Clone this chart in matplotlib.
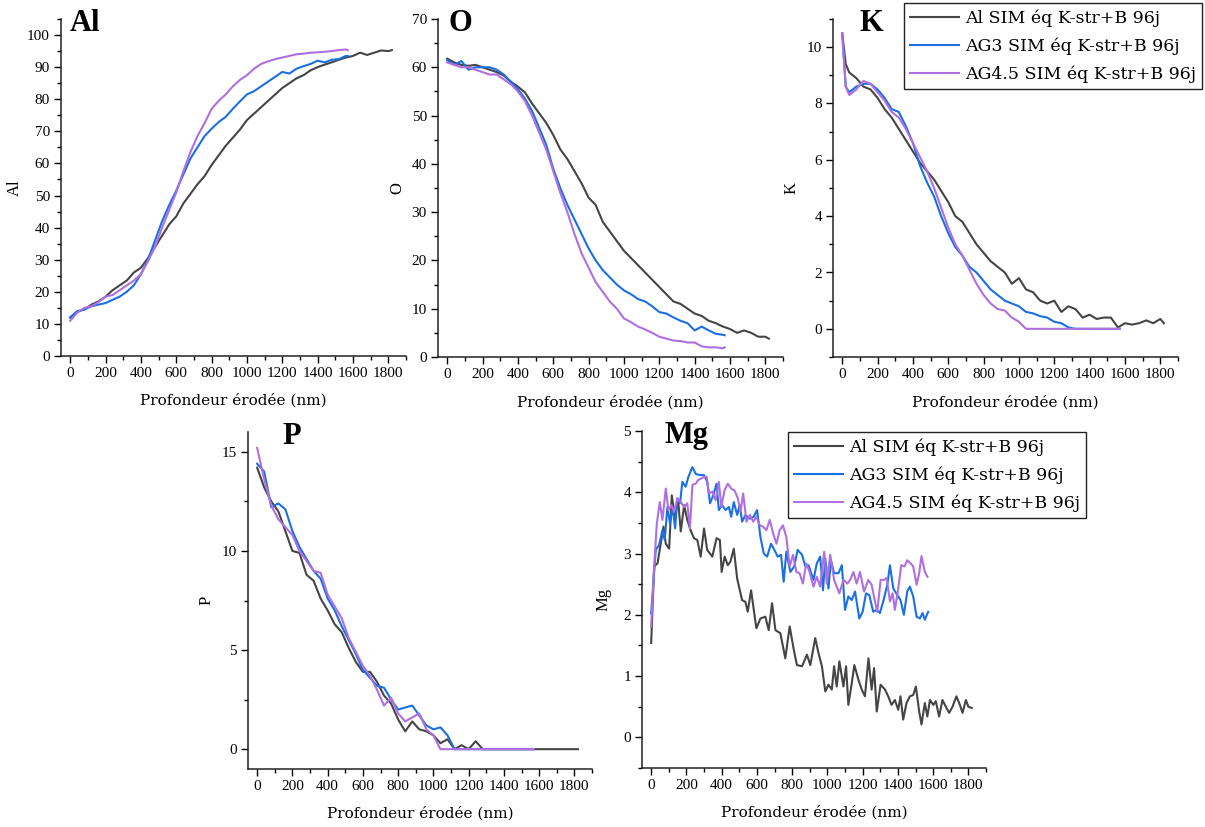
import numpy as np
import matplotlib
matplotlib.use("Agg")
import matplotlib.pyplot as plt
from matplotlib.ticker import MultipleLocator

plt.rcParams['font.family'] = ['Liberation Serif', 'DejaVu Serif']

# ---- data ---------------------------------------------------------------
series_names = ["Al SIM éq K-str+B 96j", "AG3 SIM éq K-str+B 96j", "AG4.5 SIM éq K-str+B 96j"]
colors = ["#454545", "#1a70e3", "#b06fe0"]

# depth grids (nm) for the smooth profiles
depth_al = list(range(0, 1801, 40)) + [1820]
depth_ag = list(range(0, 1561, 40)) + [1570]
# K has a sharp drop right at the surface
depth_k_al = [0, 20] + list(range(40, 1801, 40)) + [1820]
depth_k_ag = [0, 20] + list(range(40, 1561, 40)) + [1570]

al_al = [12, 13.8, 14.5, 16, 17, 18.5, 20.5, 22, 23.5, 26,
         27.5, 30.5, 34, 37.5, 41, 43.5, 47.5, 50.5, 53.5, 56,
         59.5, 62.5, 65.5, 68, 70.5, 73.5, 75.5, 77.5, 79.5, 81.5,
         83.5, 85, 86.5, 87.5, 89, 90, 90.8, 91.5, 92.3, 93,
         93.5, 94.5, 93.8, 94.5, 95.2, 95, 95.3]
al_ag3 = [12, 14, 14.5, 15.5, 16, 16.5, 17.5, 18.5, 20, 22,
          25.5, 30, 36, 42, 47, 51.5, 56.5, 61.5, 65, 68.5,
          70.8, 72.9, 74.5, 77, 79.3, 81.5, 82.5, 84, 85.5, 87,
          88.5, 88, 89.5, 90.3, 91, 92, 91.5, 92.3, 92.5, 93.5,
          93.5]
al_ag45 = [11, 13.5, 15, 15.5, 16.8, 18.5, 19, 20.5, 22, 23.5,
           25.5, 29.5, 34, 40, 45.5, 51, 57.5, 63.5, 68.5, 72.5,
           77, 79.5, 81.5, 84, 86, 87.5, 89.5, 91, 91.8, 92.5,
           93, 93.5, 94, 94.2, 94.5, 94.6, 94.8, 95, 95.3, 95.5,
           95.3]

o_al = [61.8, 61, 60.5, 60.3, 60.5, 60, 59.5, 59, 58.3, 57,
        56, 54.8, 52.5, 50.5, 48.5, 46, 43, 41, 38.5, 36,
        33, 31.5, 28, 26, 24, 22, 20.5, 19, 17.5, 16,
        14.5, 13, 11.5, 11, 10, 9, 8.5, 7.5, 7, 6.3,
        5.8, 5, 5.5, 5, 4.2, 4.2, 3.8]
o_ag3 = [61.5, 60.5, 61.3, 59.5, 60, 60, 60, 59.5, 58.5, 57,
         55.5, 53.5, 51, 47.5, 44, 39, 35, 31.5, 28.5, 25.5,
         22.5, 20, 18, 16.5, 15, 13.8, 13, 12, 11.5, 10.5,
         9.3, 9, 8.2, 7.5, 7, 5.5, 6.3, 5.5, 4.8, 4.6,
         4.5]
o_ag45 = [61, 60.5, 60, 60, 59.5, 59, 58.5, 58.5, 57.5, 56.5,
          55, 53, 50, 46.5, 43, 38.5, 34, 30, 25.5, 21.5,
          18.5, 15.5, 13.5, 11.5, 10, 8, 7.2, 6.3, 5.7, 5,
          4.2, 3.8, 3.4, 3.3, 3, 3, 2.2, 2, 2, 1.8,
          2]

k_al = [10.5, 9.4, 9.1, 8.9, 8.6, 8.5, 8.2, 7.8, 7.5, 7.1, 6.7,
        6.3, 5.9, 5.6, 5.3, 4.9, 4.5, 4.0, 3.8, 3.4, 3.0,
        2.7, 2.4, 2.2, 2.0, 1.6, 1.8, 1.4, 1.3, 1.0, 0.9,
        1.0, 0.6, 0.8, 0.7, 0.4, 0.5, 0.35, 0.4, 0.4, 0.05,
        0.2, 0.15, 0.2, 0.3, 0.2, 0.35, 0.2]
k_ag3 = [10.5, 8.6, 8.4, 8.6, 8.7, 8.7, 8.5, 8.2, 7.8, 7.7, 7.2,
         6.6, 5.8, 5.2, 4.7, 4.0, 3.4, 2.9, 2.6, 2.2, 2.0,
         1.7, 1.4, 1.2, 1.0, 0.9, 0.8, 0.6, 0.55, 0.45, 0.4,
         0.25, 0.2, 0.05, 0, 0, 0, 0, 0, 0, 0,
         0]
k_ag45 = [10.5, 8.6, 8.3, 8.5, 8.8, 8.7, 8.4, 8.1, 7.7, 7.5, 7.1,
          6.6, 6.1, 5.6, 5.0, 4.3, 3.6, 3.0, 2.6, 2.1, 1.6,
          1.2, 0.9, 0.7, 0.65, 0.4, 0.25, 0, 0, 0, 0,
          0, 0, 0, 0, 0, 0, 0, 0, 0, 0,
          0]

p_al = [14.2, 13.2, 12.5, 12.0, 11.0, 10.0, 9.9, 8.8, 8.5, 7.6,
        7.0, 6.3, 5.9, 5.1, 4.4, 3.9, 3.9, 3.4, 2.7, 2.3,
        1.5, 0.9, 1.4, 1.0, 0.9, 0.7, 0.3, 0.5, 0.0, 0.2,
        0.0, 0.4, 0, 0, 0, 0, 0, 0, 0, 0,
        0, 0, 0, 0, 0, 0, 0]
p_ag3 = [14.4, 14.0, 12.2, 12.4, 12.1, 11.0, 10.2, 9.6, 9.0, 8.6,
         7.6, 7.0, 6.2, 5.5, 4.8, 4.0, 3.6, 3.2, 3.1, 2.5,
         2.0, 2.1, 2.2, 1.7, 1.2, 1.0, 1.1, 0.7, 0.0, 0,
         0, 0, 0, 0, 0, 0, 0, 0, 0, 0,
         0]
p_ag45 = [15.2, 13.6, 12.3, 11.6, 11.2, 10.8, 10.0, 9.5, 9.0, 8.9,
          7.8, 7.2, 6.6, 5.6, 4.9, 4.2, 3.7, 3.0, 2.2, 2.6,
          1.8, 1.4, 1.6, 1.8, 1.0, 0.7, 0.0, 0, 0, 0,
          0, 0, 0, 0, 0, 0, 0, 0, 0, 0,
          0]

# Mg is noisy: read point by point
mg_al_depth = [0, 17, 36, 70, 83, 102, 117, 134, 153, 168, 187, 205, 224, 243, 262, 281,
               300, 318, 347, 371, 390, 400, 417, 435, 450, 469, 488, 516, 535, 548, 567, 597,
               620, 648, 667, 686, 705, 733, 761, 786, 808, 827, 856, 884, 903, 931, 950, 969,
               988, 1006, 1025, 1038, 1053, 1068, 1091, 1106, 1119, 1138, 1153, 1176, 1195, 1213,
               1233, 1251, 1265, 1280, 1302, 1327, 1345, 1364, 1383, 1402, 1415, 1430, 1449, 1468,
               1487, 1502, 1521, 1534, 1553, 1567, 1582, 1601, 1615, 1634, 1653, 1672, 1691, 1710,
               1732, 1748, 1767, 1786, 1800, 1819]
mg_al = [1.54, 2.79, 2.84, 3.44, 3.16, 3.08, 3.95, 3.6, 3.87, 3.36, 3.79, 3.55, 3.38, 3.25, 3.22, 2.95,
         3.41, 3.06, 2.95, 3.25, 3.22, 2.7, 2.95, 2.81, 2.87, 3.08, 2.59, 2.24, 2.21, 2.05, 2.4, 1.78,
         1.94, 1.97, 1.75, 2.19, 1.75, 1.7, 1.29, 1.81, 1.45, 1.18, 1.16, 1.35, 1.18, 1.62, 1.37, 1.16,
         0.75, 0.86, 0.78, 1.16, 0.83, 1.24, 0.83, 1.16, 0.53, 0.88, 1.18, 0.94, 0.78, 0.67,
         1.29, 0.78, 1.13, 0.42, 0.86, 0.78, 0.67, 0.53, 0.61, 0.45, 0.67, 0.29, 0.56, 0.67,
         0.69, 0.83, 0.42, 0.21, 0.56, 0.34, 0.61, 0.53, 0.59, 0.34, 0.61, 0.5, 0.4, 0.5,
         0.67, 0.56, 0.4, 0.61, 0.5, 0.48]

mg_ag3_depth = [0, 26, 45, 64, 77, 92, 107, 121, 136, 149, 164, 177, 196, 211, 234, 253,
                277, 300, 318, 334, 352, 371, 384, 403, 422, 441, 454, 469, 488, 503, 516, 535,
                560, 582, 601, 620, 639, 658, 680, 699, 718, 737, 752, 767, 790, 812, 831, 856,
                875, 893, 921, 940, 959, 975, 988, 1006, 1020, 1038, 1063, 1082, 1100, 1119,
                1138, 1157, 1181, 1200, 1219, 1238, 1260, 1279, 1298, 1317, 1340, 1355, 1374, 1397,
                1415, 1434, 1453, 1468, 1487, 1506, 1525, 1540, 1553, 1572]
mg_ag3 = [2.02, 3.06, 3.14, 3.38, 3.22, 3.76, 3.49, 3.76, 3.41, 3.9, 3.82, 4.17, 4.09, 4.25, 4.41, 4.3,
          4.28, 4.28, 4.17, 3.82, 3.95, 4.14, 3.71, 3.79, 3.71, 3.76, 3.6, 3.84, 3.63, 3.79, 3.52, 3.63,
          3.57, 3.6, 3.71, 3.27, 3.0, 2.95, 3.16, 3.06, 2.95, 2.98, 2.54, 3.03, 2.7, 2.79, 3.06, 2.98,
          2.79, 2.81, 2.57, 2.84, 2.95, 2.4, 2.92, 2.43, 2.89, 2.68, 2.68, 2.81, 2.08, 2.3,
          2.24, 2.38, 1.94, 2.05, 2.35, 2.32, 2.05, 2.08, 2.03, 2.22, 2.49, 2.81, 2.43, 2.32,
          2.24, 2.0, 2.38, 2.46, 2.3, 1.97, 1.94, 2.03, 1.92, 2.05]

mg_ag45_depth = [0, 17, 32, 49, 64, 83, 98, 115, 130, 149, 168, 187, 205, 220, 234, 253,
                 266, 281, 300, 315, 328, 347, 366, 384, 398, 416, 435, 454, 473, 492, 507, 522,
                 541, 560, 579, 597, 616, 635, 654, 673, 692, 711, 729, 748, 767, 786, 805, 824,
                 842, 861, 880, 899, 921, 940, 959, 982, 997, 1016, 1038, 1068, 1091, 1114,
                 1129, 1148, 1166, 1185, 1208, 1232, 1251, 1270, 1283, 1302, 1321, 1336, 1355, 1370,
                 1383, 1402, 1419, 1438, 1453, 1472, 1487, 1506, 1521, 1534, 1553, 1568]
mg_ag45 = [1.81, 2.79, 3.49, 3.84, 3.55, 4.06, 3.71, 3.79, 3.68, 3.9, 3.84, 3.76, 3.82, 3.41, 4.12, 4.14,
           4.2, 4.22, 4.25, 4.25, 3.98, 4.01, 3.87, 4.17, 3.76, 4.03, 4.14, 4.06, 4.03, 3.9, 3.68, 3.98,
           3.52, 3.63, 3.52, 3.6, 3.46, 3.44, 3.38, 3.55, 3.33, 3.16, 3.38, 3.46, 3.27, 2.79, 2.98, 2.7,
           2.68, 2.51, 2.84, 2.7, 2.46, 2.62, 2.46, 3.03, 2.51, 2.98, 2.57, 2.35, 2.57, 2.51,
           2.57, 2.7, 2.51, 2.7, 2.38, 2.57, 2.49, 2.22, 2.05, 2.57, 2.57, 2.6, 2.22, 2.35,
           2.08, 2.43, 2.81, 2.79, 2.89, 2.84, 2.79, 2.49, 2.68, 2.96, 2.7, 2.62]

# ---- figure -------------------------------------------------------------
W, H = 1205, 827
fig = plt.figure(figsize=(W / 100, H / 100), dpi=100)


def px_axes(left, top, right, bottom):
    return fig.add_axes([left / W, 1 - bottom / H, (right - left) / W, (bottom - top) / H])


def style(ax, name, ylim, major, minor, title_x, ylab_x):
    ax.set_xlim(-52, 1900)
    ax.set_ylim(*ylim)
    ax.spines['top'].set_visible(False)
    ax.spines['right'].set_visible(False)
    for s in ('left', 'bottom'):
        ax.spines[s].set_linewidth(1.1)
        ax.spines[s].set_color('#222222')
    ax.xaxis.set_major_locator(MultipleLocator(200))
    ax.xaxis.set_minor_locator(MultipleLocator(100))
    ax.yaxis.set_major_locator(MultipleLocator(major))
    ax.yaxis.set_minor_locator(MultipleLocator(minor))
    ax.set_xticks(np.arange(0, 1801, 200))
    ax.tick_params(which='major', direction='out', length=5, width=1, labelsize=11, pad=3)
    ax.tick_params(which='minor', direction='out', length=3, width=1)
    ax.set_xlabel("Profondeur érodée (nm)", family='DejaVu Serif', fontsize=11)
    ax.xaxis.set_label_coords(0.5, -0.112)
    ax.set_ylabel(name, fontsize=12)
    ax.yaxis.set_label_coords(ylab_x, 0.5)
    ax.text(title_x, 1.03, name, transform=ax.transAxes, fontsize=22,
            fontweight='bold', va='top', ha='left')


def draw(ax, da, a, db, b, dc, c):
    lines = []
    for d, v, col, lab in zip([da, db, dc], [a, b, c], colors, series_names):
        ln, = ax.plot(d, v, color=col, lw=1.5, label=lab)
        lines.append(ln)
    return lines


ax_al = px_axes(61, 19, 406, 356)
draw(ax_al, depth_al, al_al, depth_ag, al_ag3, depth_ag, al_ag45)
style(ax_al, "Al", (0, 105), 10, 5, 0.026, -0.11)

ax_o = px_axes(438, 19, 783, 357)
draw(ax_o, depth_al, o_al, depth_ag, o_ag3, depth_ag, o_ag45)
style(ax_o, "O", (0, 70), 10, 5, 0.029, -0.096)

ax_k = px_axes(833, 19, 1178, 357)
lines = draw(ax_k, depth_k_al, k_al, depth_k_ag, k_ag3, depth_k_ag, k_ag45)
style(ax_k, "K", (-1, 11), 2, 1, 0.078, -0.096)

ax_p = px_axes(248, 432, 592, 769)
draw(ax_p, depth_al, p_al, depth_ag, p_ag3, depth_ag, p_ag45)
style(ax_p, "P", (-1, 16), 5, 2.5, 0.10, -0.096)

ax_mg = px_axes(642, 431, 986, 768)
draw(ax_mg, mg_al_depth, mg_al, mg_ag3_depth, mg_ag3, mg_ag45_depth, mg_ag45)
style(ax_mg, "Mg", (-0.5, 5), 1, 0.5, 0.064, -0.09)

leg_kw = dict(frameon=True, fancybox=False, edgecolor='#222222', framealpha=1,
              handlelength=2.8, handletextpad=0.35, borderpad=0.35, labelspacing=0.62,
              borderaxespad=0, prop={'family': 'DejaVu Serif', 'size': 12.5})
leg1 = ax_k.legend(handles=lines, loc='upper right', bbox_to_anchor=(1202 / W, 1 - 3 / H),
                   bbox_transform=fig.transFigure, **leg_kw)
leg1.get_frame().set_linewidth(1.0)
leg2 = ax_mg.legend(handles=ax_mg.get_lines(), loc='upper left', bbox_to_anchor=(788 / W, 1 - 432 / H),
                    bbox_transform=fig.transFigure, **leg_kw)
leg2.get_frame().set_linewidth(1.0)

fig.savefig("out.png", dpi=100)
